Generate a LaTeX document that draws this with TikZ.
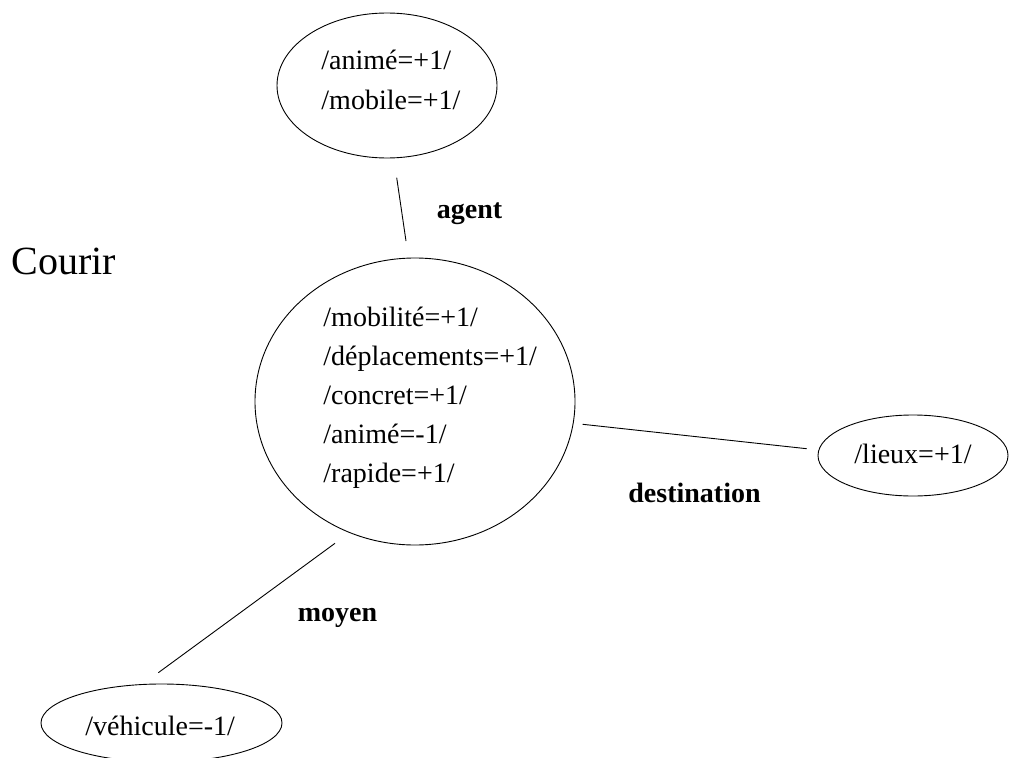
\documentclass[tikz,border=0pt]{standalone}
\usepackage{fontspec}
\setmainfont{Liberation Serif}
\usetikzlibrary{shapes.geometric}
\begin{document}
\begin{tikzpicture}[x=1bp,y=-1bp,line width=0.9bp,
  frame/.style={draw,ellipse,inner sep=0pt},
  feat/.style={anchor=base west,inner sep=0pt,font=\fontsize{28bp}{34bp}\selectfont},
  role/.style={anchor=base,inner sep=0pt,font=\fontsize{28bp}{34bp}\selectfont\bfseries}]
\useasboundingbox (0,0) rectangle (1009,758);

% verb
\node[anchor=base west,inner sep=0pt,font=\fontsize{40bp}{48bp}\selectfont] (verb) at (11,274) {Courir};

% frames
\node[frame,minimum width=220bp,minimum height=145bp] (agentF) at (387,85.5) {};
\node[frame,minimum width=320bp,minimum height=287bp] (coreF) at (415,401.5) {};
\node[frame,minimum width=190bp,minimum height=81bp] (destF) at (913,455.5) {};
\node[frame,minimum width=241bp,minimum height=78bp] (meanF) at (161.5,723) {};

% features
\node[feat] (ag1) at (321,70) {/animé=+1/};
\node[feat] (ag2) at (321,109) {/mobile=+1/};

\node[feat] (c1) at (323,326) {/mobilité=+1/};
\node[feat] (c2) at (323,365) {/déplacements=+1/};
\node[feat] (c3) at (323,404) {/concret=+1/};
\node[feat] (c4) at (323,443) {/animé=-1/};
\node[feat] (c5) at (323,482) {/rapide=+1/};

\node[feat] (d1) at (854,463) {/lieux=+1/};
\node[feat] (m1) at (85,735) {/véhicule=-1/};

% roles
\node[role] (agentL) at (469.5,218) {agent};
\node[role] (destL) at (694.5,502) {destination};
\node[role] (meanL) at (337.5,621) {moyen};

% links
\coordinate (a1) at (396.7,177.7);
\coordinate (a2) at (406,241);
\coordinate (d1s) at (582.7,424.3);
\coordinate (d1e) at (806.7,448.7);
\coordinate (m1s) at (335,543.3);
\coordinate (m1e) at (158.3,672.7);
\draw (a1) -- (a2);
\draw (d1s) -- (d1e);
\draw (m1s) -- (m1e);
\end{tikzpicture}
\end{document}
